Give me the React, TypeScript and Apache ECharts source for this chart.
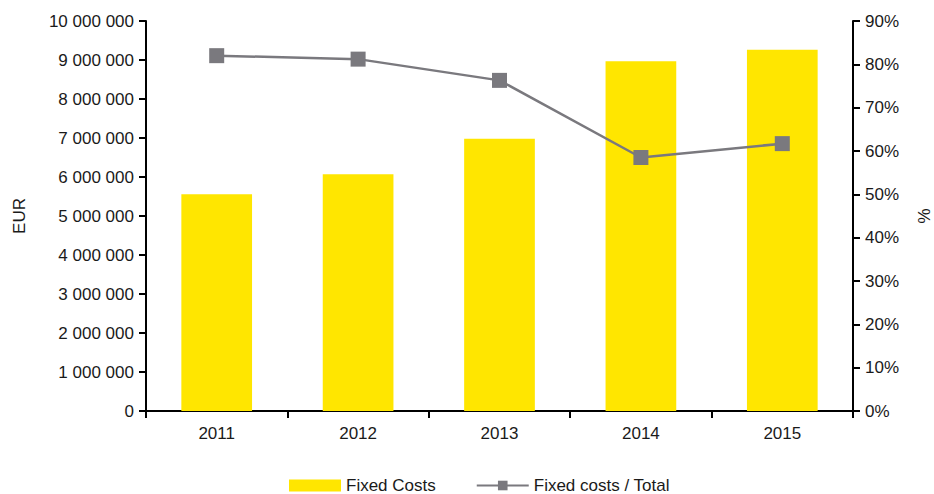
import React, { useEffect, useRef } from "react";
import * as echarts from "echarts";

const categories = ["2011", "2012", "2013", "2014", "2015"];
const fixedCosts = [5560000, 6070000, 6980000, 8970000, 9260000];
const fixedShare = [82.0, 81.2, 76.3, 58.5, 61.7];

const FONT = "'Liberation Sans', Arial, sans-serif";
const TXT = "#1a1a1a";
const FS = 17;

function fmtSpace(v: number): string {
  return String(Math.round(v)).replace(/\B(?=(\d{3})+(?!\d))/g, " ");
}

export default function App() {
  const ref = useRef<HTMLDivElement>(null);
  useEffect(() => {
    if (!ref.current) return;
    const chart = echarts.init(ref.current, null, { renderer: "svg", width: 934, height: 494 });
    chart.setOption({
      animation: false,
      backgroundColor: "#ffffff",
      textStyle: { fontFamily: FONT, color: TXT },
      grid: { left: 146, right: 81, top: 21, bottom: 83, containLabel: false, outerBoundsMode: "none" },
      legend: {
        bottom: -5,
        left: 284,
        itemWidth: 52,
        itemHeight: 12,
        itemGap: 40,
        textStyle: { fontFamily: FONT, fontSize: FS, color: TXT },
        data: [
          { name: "Fixed Costs", icon: "rect" },
          { name: "Fixed costs / Total" },
        ],
      },
      xAxis: {
        type: "category",
        data: categories,
        axisLine: { lineStyle: { color: "#000", width: 2 } },
        axisTick: { show: true, length: 7, lineStyle: { color: "#000", width: 2 } },
        axisLabel: { fontFamily: FONT, fontSize: FS, color: TXT, margin: 14 },
      },
      yAxis: [
        {
          type: "value",
          min: 0,
          max: 10000000,
          interval: 1000000,
          name: "EUR",
          nameLocation: "middle",
          nameGap: 118,
          nameTextStyle: { fontFamily: FONT, fontSize: FS, color: TXT },
          axisLine: { show: true, lineStyle: { color: "#000", width: 2 } },
          axisTick: { show: true, length: 7, lineStyle: { color: "#000", width: 2 } },
          splitLine: { show: false },
          axisLabel: {
            fontFamily: FONT,
            fontSize: FS,
            color: TXT,
            margin: 12,
            formatter: (v: number) => fmtSpace(v),
          },
        },
        {
          type: "value",
          min: 0,
          max: 90,
          interval: 10,
          position: "right",
          name: "%",
          nameLocation: "middle",
          nameGap: 62,
          nameRotate: -90,
          nameTextStyle: { fontFamily: FONT, fontSize: FS, color: TXT },
          axisLine: { show: true, lineStyle: { color: "#000", width: 2 } },
          axisTick: { show: true, length: 7, lineStyle: { color: "#000", width: 2 } },
          splitLine: { show: false },
          axisLabel: {
            fontFamily: FONT,
            fontSize: FS,
            color: TXT,
            margin: 12,
            formatter: (v: number) => v + "%",
          },
        },
      ],
      series: [
        {
          name: "Fixed Costs",
          type: "bar",
          yAxisIndex: 0,
          data: fixedCosts,
          barWidth: "50%",
          itemStyle: { color: "#FFE600" },
        },
        {
          name: "Fixed costs / Total",
          type: "line",
          yAxisIndex: 1,
          data: fixedShare,
          symbol: "rect",
          symbolSize: 15,
          lineStyle: { color: "#7a797e", width: 2.5 },
          itemStyle: { color: "#7a797e" },
        },
      ],
    });
    return () => chart.dispose();
  }, []);
  return <div ref={ref} style={{ width: 934, height: 494, position: "absolute", left: 0, top: 0 }} />;
}
